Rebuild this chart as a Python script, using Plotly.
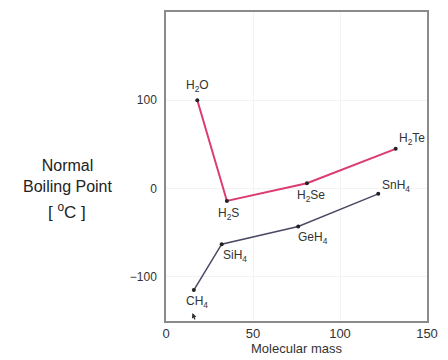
import plotly.graph_objects as go

h_names = ["H<sub>2</sub>O", "H<sub>2</sub>S", "H<sub>2</sub>Se", "H<sub>2</sub>Te"]
h_mass = [18, 35, 81, 132]
h_bp = [100, -14, 6, 45]

c_names = ["CH<sub>4</sub>", "SiH<sub>4</sub>", "GeH<sub>4</sub>", "SnH<sub>4</sub>"]
c_mass = [16, 32, 76, 122]
c_bp = [-115, -63, -43, -6]

x_ticks = [0, 50, 100, 150]
y_ticks = [-100, 0, 100]

FONT = "Liberation Sans, Arial, Helvetica"

fig = go.Figure()
fig.add_trace(go.Scatter(x=h_mass, y=h_bp, mode="lines+markers",
                         line=dict(color="#dc3a72", width=2),
                         marker=dict(color="#222", size=4)))
fig.add_trace(go.Scatter(x=c_mass, y=c_bp, mode="lines+markers",
                         line=dict(color="#4a4a66", width=1.5),
                         marker=dict(color="#222", size=4)))

label_font = dict(family=FONT, size=12, color="#333")
h_offsets = [(0, -14), (2, 13), (4, 13), (16, -10)]
c_offsets = [(3, 12), (13, 12), (15, 11), (18, -8)]
for n, x, y, (dx, dy) in zip(h_names, h_mass, h_bp, h_offsets):
    fig.add_annotation(x=x, y=y, text=n, showarrow=False, xshift=dx, yshift=-dy,
                       font=label_font)
for n, x, y, (dx, dy) in zip(c_names, c_mass, c_bp, c_offsets):
    fig.add_annotation(x=x, y=y, text=n, showarrow=False, xshift=dx, yshift=-dy,
                       font=label_font)

# small arrow below CH4 pointing up towards it
fig.add_annotation(x=c_mass[0] - 0.8, y=-141, ax=3, ay=8, axref="pixel", ayref="pixel",
                   showarrow=True, arrowhead=2, arrowsize=0.8, arrowwidth=1.2,
                   arrowcolor="#333", text="")

title_font = dict(family=FONT, size=16, color="#222")
fig.add_annotation(xref="paper", yref="paper", x=-0.375, y=0.47, xanchor="center",
                   yanchor="middle", text="Normal<br>Boiling Point", showarrow=False,
                   font=title_font, align="center")
fig.add_annotation(xref="paper", yref="paper", x=-0.38, y=0.357, xanchor="center",
                   yanchor="middle", text="[ <sup>o</sup>C ]", showarrow=False,
                   font=dict(family=FONT, size=17, color="#222"))

fig.update_layout(
    width=448, height=360,
    margin=dict(l=166, r=13, t=10, b=34),
    plot_bgcolor="white", paper_bgcolor="white",
    showlegend=False,
    xaxis=dict(range=[0, 150], tickvals=x_ticks, showgrid=True, gridcolor="#f3f3f3",
               zeroline=False, showline=True, linecolor="#8a8a8a", linewidth=1.5, mirror=True,
               tickfont=dict(family=FONT, size=13, color="#333"),
               title=dict(text="Molecular mass", standoff=0,
                          font=dict(family=FONT, size=13, color="#333"))),
    yaxis=dict(range=[-150, 200], tickvals=y_ticks, showgrid=True, gridcolor="#f3f3f3",
               zeroline=False, showline=True, linecolor="#8a8a8a", linewidth=1.5, mirror=True,
               ticklabelstandoff=5,
               tickfont=dict(family=FONT, size=12, color="#333")),
)
fig.write_html("out.html", config={"displayModeBar": False},
               post_script="document.body.style.margin='0px';document.body.style.overflow='hidden';")
